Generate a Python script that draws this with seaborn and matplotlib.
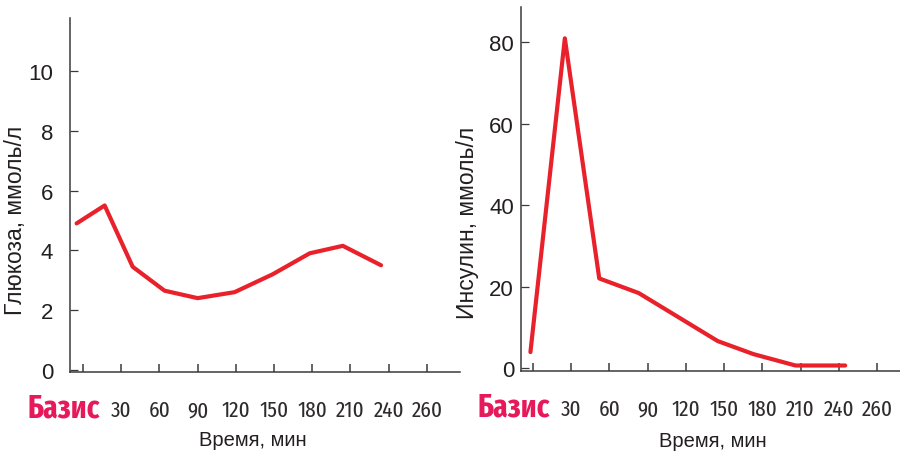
import matplotlib
matplotlib.use("Agg")
import matplotlib.pyplot as plt
import matplotlib.transforms as mtransforms
import pandas as pd
import seaborn as sns

# данные
time_labels = ["Базис", "30", "60", "90", "120", "150", "180", "210", "240", "260"]
time_ticks = [0, 30, 60, 90, 120, 150, 180, 210, 240, 270]

glucose_time = [-5, 17, 39, 64, 90, 119, 149, 178, 204, 234]
glucose_vals = [4.9, 5.5, 3.45, 2.65, 2.4, 2.6, 3.2, 3.9, 4.15, 3.5]

insulin_time = [-2, 25, 52, 83, 145, 173, 206, 245]
insulin_vals = [3.9, 81, 22, 18.4, 6.6, 3.4, 0.6, 0.6]

glucose_ticks = [0, 2, 4, 6, 8, 10]
insulin_ticks = [0, 20, 40, 60, 80]

sns.set_style("ticks")
plt.rcParams["font.family"] = ["Liberation Sans", "DejaVu Sans"]

RED = "#e8212a"
BASE_RED = "#e6195a"
INK = "#231f20"
NUM_FONT = "Fira Sans Extra Condensed"

fig = plt.figure(figsize=(9, 4.56), dpi=100)
ax1 = fig.add_axes([70 / 900, 1 - 373 / 456, 390 / 900, 354 / 456])
ax2 = fig.add_axes([521 / 900, 1 - 372 / 456, 379 / 900, 364 / 456])

df_g = pd.DataFrame({"t": glucose_time, "v": glucose_vals})
df_i = pd.DataFrame({"t": insulin_time, "v": insulin_vals})

sns.lineplot(data=df_g, x="t", y="v", ax=ax1, color=RED, lw=3, estimator=None)
sns.lineplot(data=df_i, x="t", y="v", ax=ax2, color=RED, lw=3, estimator=None)

panels = [
    (ax1, glucose_ticks, (-0.07, 11.77), (-10.2, 296), "Глюкоза, ммоль/л", 12, -0.141, 0.43),
    (ax2, insulin_ticks, (-0.75, 88.7), (-9.4, 288), "Инсулин, ммоль/л", 5, -0.142, 0.41),
]

for ax, yt, ylim, xlim, ylab, ypad, lx, ly in panels:
    ax.set_xlim(*xlim)
    ax.set_ylim(*ylim)
    ax.set_yticks(yt)
    ax.set_xticks(time_ticks)
    ax.set_xticklabels(time_labels)
    sns.despine(ax=ax)
    for s in ("left", "bottom"):
        ax.spines[s].set_color("#3a3a3a")
        ax.spines[s].set_linewidth(1.1)
    ax.tick_params(axis="x", direction="in", length=6, width=1.1, color="#3a3a3a", pad=32)
    ax.tick_params(axis="y", direction="in", length=6, width=0.9, color="#3a3a3a",
                   pad=ypad, labelsize=16, labelcolor=INK)
    for lab in ax.get_xticklabels():
        lab.set_family(NUM_FONT)
        lab.set_fontsize(16.5)
        lab.set_color("#2e2b2c")
        lab.set_va("baseline")
    base = ax.get_xticklabels()[0]
    base.set_fontsize(23)
    base.set_fontweight("bold")
    base.set_color(BASE_RED)
    base.set_ha("right")
    base.set_transform(base.get_transform() +
                       mtransforms.ScaledTranslation(0.17, 0, fig.dpi_scale_trans))
    ax.set_xlabel("Время, мин", fontsize=14.5, color=INK, va="center")
    ax.set_ylabel(ylab, fontsize=16.5, color=INK, va="center")
    ax.yaxis.set_label_coords(lx, ly)

ax1.xaxis.set_label_coords(0.47, -0.19)
ax2.xaxis.set_label_coords(0.507, -0.19)

fig.savefig("out.png", dpi=100)
